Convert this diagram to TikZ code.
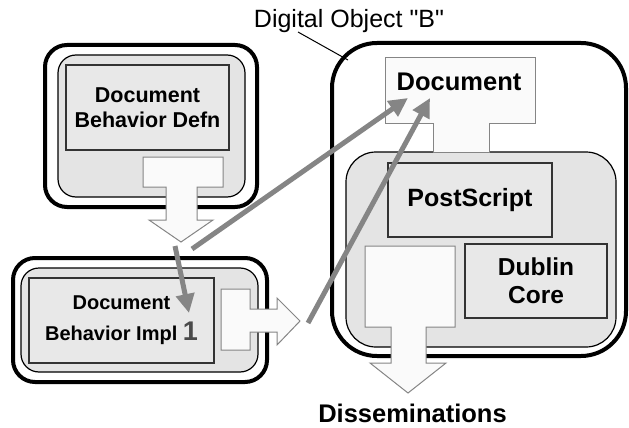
\documentclass[tikz,border=0pt]{standalone}
\usepackage{fontspec}
\setmainfont{Liberation Sans}
\newfontfamily\plainsans{Liberation Sans}
\usetikzlibrary{arrows.meta}
\definecolor{boxgray}{HTML}{E4E4E4}
\definecolor{rectgray}{HTML}{E8E8E8}
\definecolor{arrowwhite}{HTML}{FAFAFA}
\definecolor{linkgray}{HTML}{858585}
\definecolor{numgray}{HTML}{4A4A4A}
\tikzset{
  outerobj/.style={draw=black, line width=4, fill=white},
  innerobj/.style={draw=black, line width=1.2, fill=boxgray},
  contentbox/.style={draw=black!80, line width=1.2, fill=rectgray, inner sep=0, align=center},
  whitearrow/.style={draw=linkgray, line width=1, fill=arrowwhite},
  link/.style={draw=linkgray, line width=5, -{Triangle[length=19,width=18]}},
  bigbold/.style={font=\fontsize{25.5}{28}\selectfont\bfseries},
  midbold/.style={font=\fontsize{21.5}{25}\selectfont\bfseries}
}
\begin{document}
\begin{tikzpicture}[x=1pt,y=-1pt]
\useasboundingbox (0,0) rectangle (629,428);
% ---------- top-left object ----------
\draw[outerobj, rounded corners=22] (45,45) rectangle (257,207);
\draw[innerobj, rounded corners=18] (58,55) rectangle (245,197);
\node[contentbox, midbold, minimum width=163, minimum height=85] (defn) at (147.5,107.5) {Document\\Behavior Defn};
\draw[whitearrow] (143,157) -- (223,157) -- (223,187) -- (197,187) -- (197,220) -- (213,220) -- (181,242) -- (149,220) -- (166,220) -- (166,187) -- (143,187) -- cycle;
% ---------- bottom-left object ----------
\draw[outerobj, rounded corners=22] (13,258) rectangle (267,382);
\draw[innerobj, rounded corners=18] (21,268) rectangle (258,372);
\node[contentbox, font=\fontsize{20}{31}\selectfont\bfseries, minimum width=185, minimum height=85] (impl) at (121.5,320.5) {Document\\Behavior Impl {\fontsize{27}{31}\selectfont\color{numgray}1}};
\draw[whitearrow] (221,289) -- (250,289) -- (250,309) -- (277,309) -- (277,298) -- (300,321) -- (277,345) -- (277,332) -- (250,332) -- (250,350) -- (221,350) -- cycle;
% ---------- right object ----------
\draw[outerobj, rounded corners=45] (332,43) rectangle (626,356);
\draw[innerobj, rounded corners=30] (346,152) rectangle (616,347);
\draw[whitearrow] (385,58) -- (535,58) -- (535,123) -- (489,123) -- (489,152) -- (433,152) -- (433,123) -- (385,123) -- cycle;
\node[bigbold, anchor=base, inner sep=0] (doc) at (459,90) {Document};
\node[contentbox, font=\fontsize{25}{28}\selectfont\bfseries, minimum width=164, minimum height=74] (ps) at (470,200) {PostScript};
\node[contentbox, font=\fontsize{24.5}{28}\selectfont\bfseries, minimum width=142, minimum height=74] (dc) at (536,281) {Dublin\\Core};
\draw[whitearrow] (365,246) -- (455,246) -- (455,327) -- (426,327) -- (426,363) -- (446,363) -- (408,393) -- (370,363) -- (391,363) -- (391,327) -- (365,327) -- cycle;
\node[bigbold, anchor=base, inner sep=0] (diss) at (412.5,422) {Disseminations};
% ---------- label ----------
\node[font=\fontsize{25}{30}\selectfont\plainsans, anchor=base, inner sep=0] (lbl) at (349,28) {Digital Object "B"};
\coordinate (lblend) at (298,32);
\coordinate (objcorner) at (348,60);
\draw[line width=1] (lblend) -- (objcorner);
% ---------- links ----------
\coordinate (s1) at (175,246);
\coordinate (t1) at (189,313);
\coordinate (s2) at (192,249);
\coordinate (t2) at (408,98);
\coordinate (s3) at (308,323);
\coordinate (t3) at (430,98);
\draw[link] (s1) -- (t1);
\draw[link] (s2) -- (t2);
\draw[link] (s3) -- (t3);
\end{tikzpicture}
\end{document}
